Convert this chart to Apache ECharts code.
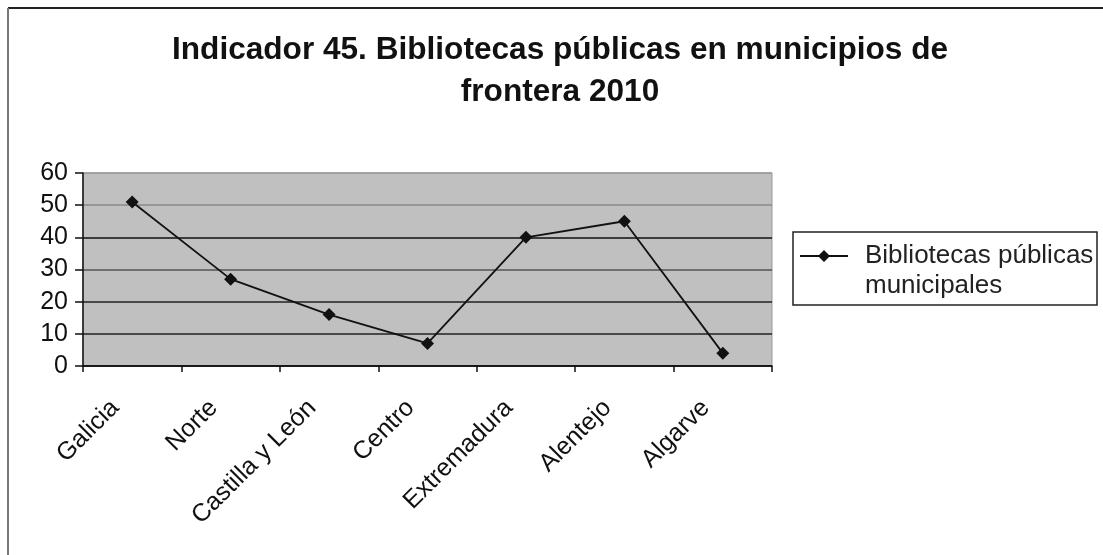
<!DOCTYPE html>
<html>
<head>
<meta charset="utf-8">
<script src="https://cdn.jsdelivr.net/npm/echarts@6/dist/echarts.min.js"></script>
<style>
html,body{margin:0;padding:0;background:#fff;}
#chart{width:1103px;height:555px;}
</style>
</head>
<body>
<div id="chart"></div>
<script>
const categories = ['Galicia', 'Norte', 'Castilla y León', 'Centro', 'Extremadura', 'Alentejo', 'Algarve'];
const values = [51, 27, 16, 7, 40, 45, 4];
const seriesName = 'Bibliotecas públicas\nmunicipales';
const titleText = 'Indicador 45. Bibliotecas públicas en municipios de\nfrontera 2010';
const yMin = 0, yMax = 60, yInterval = 10;

const chart = echarts.init(document.getElementById('chart'), null, {renderer: 'canvas'});
const font = 'Liberation Sans, Arial, sans-serif';
// legend icon: line with diamond placed at top of a taller box so it aligns with the first text line
const legendIcon = 'path://M0,5.1L48,5.1L48,6.9L0,6.9Z M24,0L30,6L24,12L18,6Z M0,42L0.01,42L0,42Z';
chart.setOption({
  backgroundColor: '#fff',
  animation: false,
  textStyle: {fontFamily: font},
  title: {
    text: titleText,
    left: 560,
    textAlign: 'center',
    top: 29,
    padding: 0,
    textStyle: {fontFamily: font, fontSize: 31.6, fontWeight: 'bold', color: '#111', lineHeight: 42}
  },
  graphic: [
    {type: 'line', shape: {x1: 8, y1: 8, x2: 1103, y2: 8}, style: {stroke: '#222', lineWidth: 2}},
    {type: 'line', shape: {x1: 8, y1: 8, x2: 8, y2: 555}, style: {stroke: '#777', lineWidth: 2}},
    {type: 'rect', shape: {x: 793, y: 232, width: 304, height: 73}, style: {fill: null, stroke: '#222', lineWidth: 1.5}}
  ],
  legend: {
    orient: 'vertical',
    left: 800,
    top: 241,
    padding: 0,
    icon: legendIcon,
    itemWidth: 48,
    itemHeight: 42,
    itemStyle: {color: '#111', borderWidth: 0},
    textStyle: {fontFamily: font, fontSize: 26, color: '#222', lineHeight: 30, padding: [0, 0, 0, 12]},
    data: [seriesName]
  },
  grid: {
    left: 83, right: 331, top: 173, bottom: 189,
    show: true, backgroundColor: '#c0c0c0', borderColor: '#999', borderWidth: 1
  },
  xAxis: {
    type: 'category',
    data: categories,
    boundaryGap: true,
    axisLine: {lineStyle: {color: '#111', width: 1.5}},
    axisTick: {show: true, length: 6, lineStyle: {color: '#111', width: 1.5}},
    axisLabel: {rotate: 45, interval: 0, fontSize: 25, color: '#111', fontFamily: font, margin: 21, padding: [0, 24, 0, 0]},
    splitLine: {show: false}
  },
  yAxis: {
    type: 'value',
    min: yMin, max: yMax, interval: yInterval,
    axisLine: {show: true, lineStyle: {color: '#111', width: 1.5}},
    axisTick: {show: true, length: 8, lineStyle: {color: '#111', width: 1.5}},
    axisLabel: {fontSize: 25, color: '#111', fontFamily: font, margin: 15},
    splitLine: {show: true, lineStyle: {color: ['#111', '#222', '#222', '#555', '#111', '#888', '#999'], width: 1.5}}
  },
  series: [{
    name: seriesName,
    type: 'line',
    data: values,
    symbol: 'diamond',
    symbolSize: 13,
    lineStyle: {color: '#111', width: 1.8},
    itemStyle: {color: '#111'}
  }]
});
</script>
</body>
</html>
